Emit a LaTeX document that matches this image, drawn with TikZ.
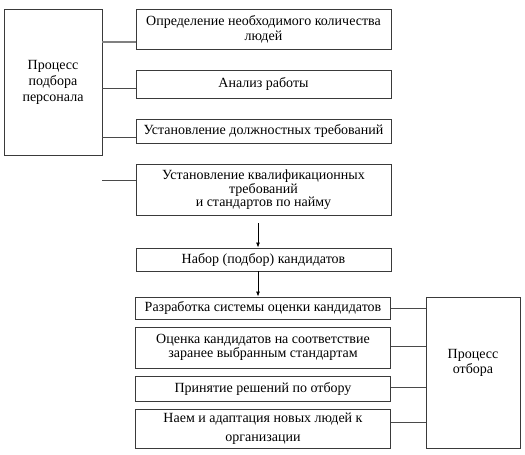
\documentclass[tikz,border=0pt]{standalone}
\usepackage{fontspec}
\setmainfont{Liberation Serif}
\usetikzlibrary{arrows.meta}
\definecolor{boxline}{HTML}{3A3A3A}
\definecolor{conline}{HTML}{4A4A4A}
\newcommand{\fs}[1]{\fontsize{14}{#1}\selectfont}
\begin{document}
\begin{tikzpicture}[x=1pt,y=-1pt,
  box/.style={draw=boxline, line width=0.9pt, inner sep=0pt, align=center,
    font=\fs{15}, text=black},
  colbox/.style={box, minimum width=255pt},
  con/.style={draw=conline, line width=0.9pt},
  arr/.style={draw=black, line width=0.8pt, -{Latex[length=5pt,width=4pt]}}]
\useasboundingbox (0,0) rectangle (525,455);
% left group
\node[box, minimum width=98pt, minimum height=146pt, font=\fs{16}] (L) at (53,82) {Процесс\\подбора\\персонала};
\node[colbox, minimum height=40pt, font=\fs{15}] (B1) at (263.5,29) {Определение необходимого количества\\людей};
\node[colbox, minimum height=28pt] (B2) at (263.5,84) {Анализ работы};
\node[colbox, minimum height=24pt] (B3) at (263.5,131) {Установление должностных требований};
\node[colbox, minimum height=51pt, font=\fs{12.5}] (B4) at (263.5,189.5) {Установление квалификационных\\требований\\и стандартов по найму};
\node[colbox, minimum height=23pt] (B5) at (263.5,259.5) {Набор (подбор) кандидатов};
% right group
\node[colbox, minimum height=22pt] (B6) at (263,308) {Разработка системы оценки кандидатов};
\node[colbox, minimum height=41pt, font=\fs{14.5}] (B7) at (263,347.5) {Оценка кандидатов на соответствие\\заранее выбранным стандартам};
\node[colbox, minimum height=25pt] (B8) at (263,388.5) {Принятие решений по отбору};
\node[colbox, minimum height=39pt, font=\fs{19}] (B9) at (263,428.5) {Наем и адаптация новых людей к\\организации};
\node[box, minimum width=94pt, minimum height=151pt, font=\fs{14.5}] (R) at (473,372.5) {Процесс\\отбора\\[8pt]};
% connector levels
\coordinate (c1) at (0,42);
\coordinate (c2) at (0,88);
\coordinate (c3) at (0,137);
\coordinate (f4) at (102,180);
\coordinate (c6) at (0,308);
\coordinate (c7) at (0,346);
\coordinate (c8) at (0,387);
\coordinate (c9) at (0,422);
\coordinate (ax) at (258,0);
\coordinate (a1) at (258,223);
\draw[con, line width=1.5pt, draw=gray] (L.east |- c1) -- (B1.west |- c1);
\draw[con] (L.east |- c2) -- (B2.west |- c2);
\draw[con] (L.east |- c3) -- (B3.west |- c3);
\draw[con] (f4) -- (B4.west |- f4);
\draw[con] (B6.east |- c6) -- (R.west |- c6);
\draw[con] (B7.east |- c7) -- (R.west |- c7);
\draw[con] (B8.east |- c8) -- (R.west |- c8);
\draw[con] (B9.east |- c9) -- (R.west |- c9);
\draw[arr] (a1) -- (B5.north -| ax);
\draw[arr] (B5.south -| ax) -- (B6.north -| ax);
\end{tikzpicture}
\end{document}
